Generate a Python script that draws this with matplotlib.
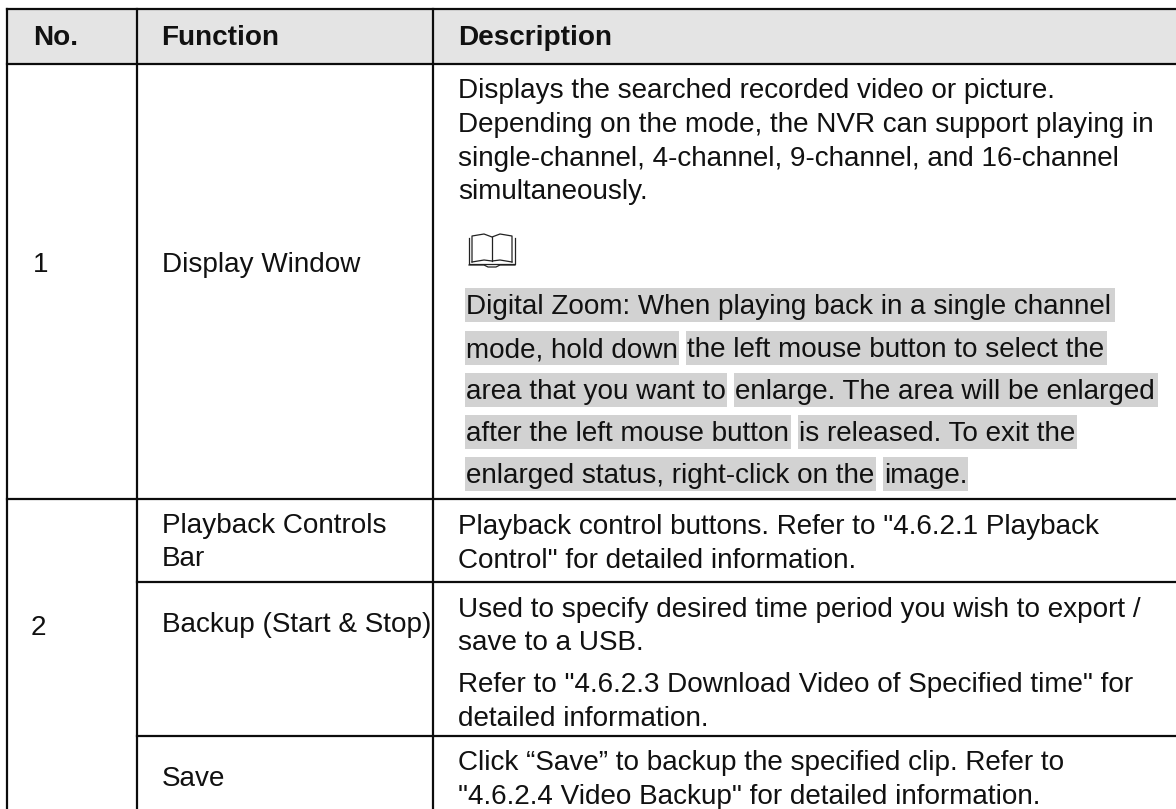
import matplotlib.pyplot as plt
from matplotlib.patches import Rectangle

plt.rcParams["font.family"] = ["Liberation Sans", "DejaVu Sans"]

# Table layout, in pixels
col_x = [6.5, 136.7, 432.7]
right_edge = 1176
bottom_edge = 809
row_y = [9, 63.7, 498.5, 581.5, 736]
headers = ["No.", "Function", "Description"]
header_x = [33.5, 161.5, 458]

numbers = [("1", 33, 272.5), ("2", 31, 635)]
functions = [
    ("Display Window", 162, 272.5),
    ("Playback Controls", 162, 533),
    ("Bar", 162, 566),
    ("Backup (Start & Stop)", 162, 632.5),
    ("Save", 162, 786.5),
]
plain_lines = [
    ("Displays the searched recorded video or picture.", 98),
    ("Depending on the mode, the NVR can support playing in", 132),
    ("single-channel, 4-channel, 9-channel, and 16-channel", 165.5),
    ("simultaneously.", 199),
    ('Playback control buttons. Refer to "4.6.2.1 Playback', 534),
    ('Control" for detailed information.', 567.5),
    ("Used to specify desired time period you wish to export /", 617),
    ("save to a USB.", 650.5),
    ('Refer to "4.6.2.3 Download Video of Specified time" for', 692),
    ("detailed information.", 725.5),
    ("Click “Save” to backup the specified clip. Refer to", 770),
    ('"4.6.2.4 Video Backup" for detailed information.', 803.5),
]
# Highlighted runs: text, left edge, right edge, top edge
highlight_runs = [
    ("Digital Zoom: When playing back in a single channel", 465, 1115, 288),
    ("mode, hold down", 465, 679, 331),
    ("the left mouse button to select the", 686, 1107, 331),
    ("area that you want to", 465, 727, 373),
    ("enlarge. The area will be enlarged", 734, 1158, 373),
    ("after the left mouse button", 465, 791, 415),
    ("is released. To exit the", 798, 1077, 415),
    ("enlarged status, right-click on the", 465, 876, 457),
    ("image.", 883, 968, 457),
]

fig = plt.figure(figsize=(11.76, 8.09), dpi=100)
ax = fig.add_axes([0, 0, 1, 1])
ax.set_xlim(0, 1176)
ax.set_ylim(809, 0)
ax.axis("off")

# Header band
ax.add_patch(Rectangle((col_x[0], row_y[0]), right_edge - col_x[0], row_y[1] - row_y[0],
                       facecolor="#e4e4e4", edgecolor="none", zorder=0))

# Grid lines
lw = 1.6
line_color = "#0c0c0c"
ax.plot([col_x[0], right_edge], [row_y[0], row_y[0]], color=line_color, lw=lw)
ax.plot([col_x[0], right_edge], [row_y[1], row_y[1]], color=line_color, lw=lw)
ax.plot([col_x[0], right_edge], [row_y[2], row_y[2]], color=line_color, lw=lw)
ax.plot([col_x[1], right_edge], [row_y[3], row_y[3]], color=line_color, lw=lw)
ax.plot([col_x[1], right_edge], [row_y[4], row_y[4]], color=line_color, lw=lw)
for x in col_x:
    ax.plot([x, x], [row_y[0], bottom_edge], color=line_color, lw=lw)

fs = 20.12
text_color = "#111111"
for label, x in zip(headers, header_x):
    ax.text(x, 45, label, fontsize=fs, fontweight="bold", va="baseline", color=text_color)
for label, x, y in numbers + functions:
    ax.text(x, y, label, fontsize=fs, va="baseline", color=text_color)
for label, y in plain_lines:
    ax.text(458, y, label, fontsize=fs, va="baseline", color=text_color)

# Grey highlighted note text
for label, left, right, top in highlight_runs:
    ax.add_patch(Rectangle((left, top), right - left, 34, facecolor="#d2d2d2", edgecolor="none", zorder=1))
    ax.text(left + 1, top + 26, label, fontsize=fs, va="baseline", color=text_color, zorder=2)

# Note book icon
icon_color = "#222222"
ax.plot([472, 472, 484, 492, 500, 512, 512], [262, 236, 234, 237, 234, 236, 262], color=icon_color, lw=0.9)
ax.plot([472, 484, 492, 500, 512], [262, 260, 261, 260, 262], color=icon_color, lw=0.9)
ax.plot([492, 492], [237, 261], color=icon_color, lw=0.9)
ax.plot([469, 469, 515, 515], [238, 264, 264, 238], color=icon_color, lw=0.9)
ax.plot([469, 484, 488, 496, 500, 515], [265, 265, 267, 267, 265, 265], color=icon_color, lw=0.9)

fig.savefig("out.png", dpi=100)
